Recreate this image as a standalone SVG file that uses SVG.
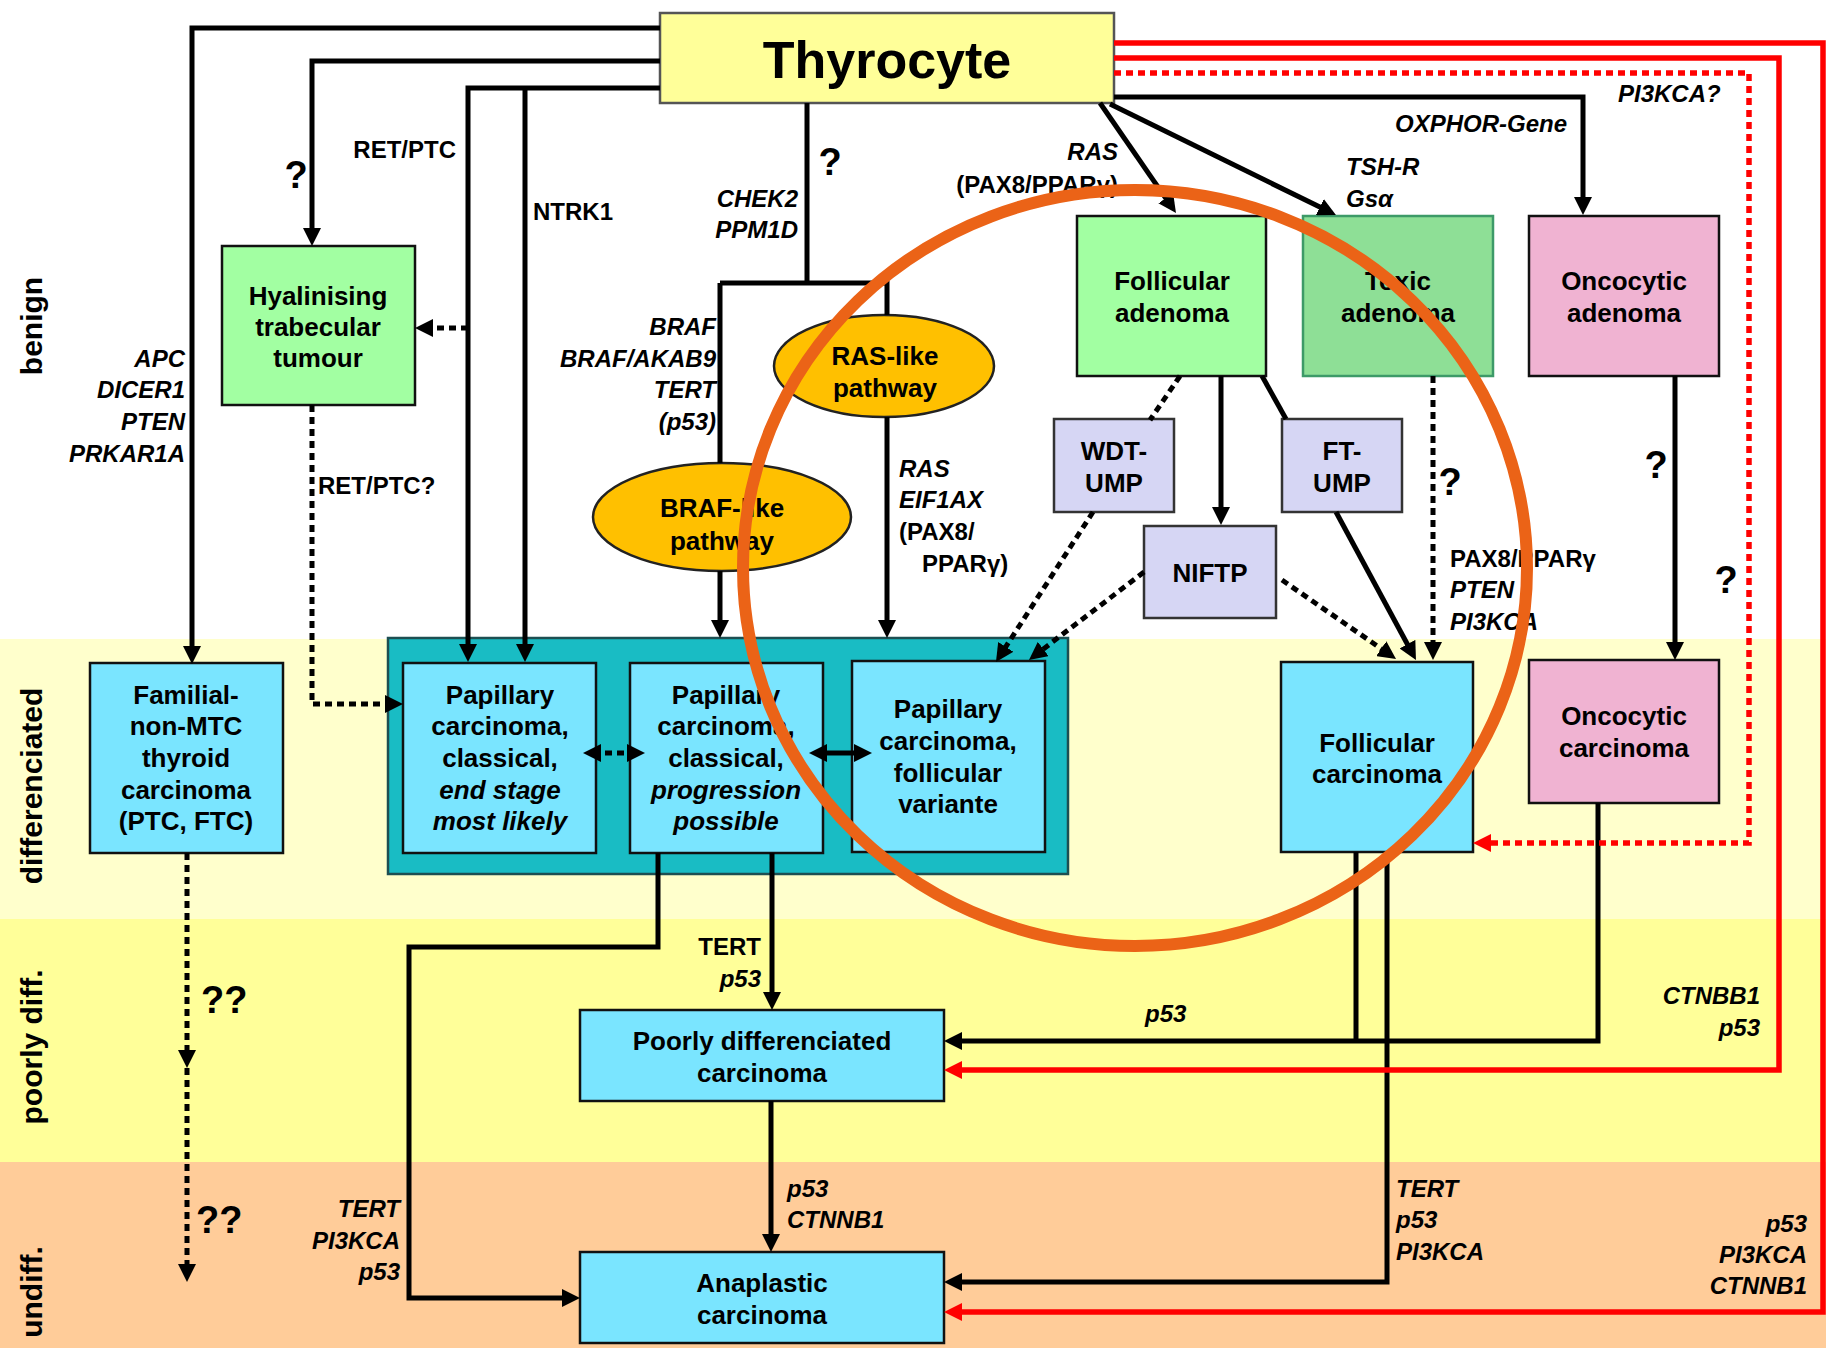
<svg xmlns="http://www.w3.org/2000/svg" width="1826" height="1348" viewBox="0 0 1826 1348">
<style>
text{font-family:"Liberation Sans",Arial,sans-serif;font-weight:bold;fill:#000}
.nt{font-size:26px;text-anchor:middle}
.lb{font-size:24px}
.it{font-style:italic}
.e{text-anchor:end}
.m{text-anchor:middle}
.q{font-size:38px}
.band{font-size:30px;text-anchor:middle}
.box{stroke:#111;stroke-width:2.5}
.ln{fill:none;stroke:#000;stroke-width:5}
.dt{fill:none;stroke:#000;stroke-width:5;stroke-dasharray:7 5}
.rd{fill:none;stroke:#FF0000;stroke-width:5.5}
.rdt{fill:none;stroke:#FF0000;stroke-width:5.5;stroke-dasharray:7 5}
.green{fill:#A2FFA2}
.cyan{fill:#7AE5FF}
.pink{fill:#F0B3D2}
.lav{fill:#D6D6F4;stroke:#333;stroke-width:2.5}
.ell{fill:#FFC000;stroke:#222;stroke-width:2.5}
</style>
<defs>
<marker id="ah" markerUnits="userSpaceOnUse" markerWidth="18" markerHeight="18" refX="8" refY="9" orient="auto-start-reverse"><path d="M0,0 L18,9 L0,18 z" fill="#000"/></marker>
<marker id="ahr" markerUnits="userSpaceOnUse" markerWidth="18" markerHeight="18" refX="8" refY="9" orient="auto-start-reverse"><path d="M0,0 L18,9 L0,18 z" fill="#FF0000"/></marker>
</defs>
<rect x="0" y="0" width="1826" height="1348" fill="#FFFFFF"/>
<g id="bands">
<rect x="0" y="639" width="1826" height="280" fill="#FFFFCC"/>
<rect x="0" y="919" width="1826" height="243" fill="#FFFF99"/>
<rect x="0" y="1162" width="1826" height="186" fill="#FFCC99"/>
<text class="band" transform="translate(42,326) rotate(-90)">benign</text>
<text class="band" transform="translate(42,786) rotate(-90)">differenciated</text>
<text class="band" transform="translate(42,1047) rotate(-90)">poorly diff.</text>
<text class="band" transform="translate(42,1292) rotate(-90)">undiff.</text>
</g>
<g id="papillary-group"><rect x="388" y="638" width="680" height="236" fill="#19BCC4" stroke="#1d4f52" stroke-width="2.5"/></g>
<g id="thyrocyte"><rect x="660" y="13" width="454" height="90" fill="#FFFF99" stroke="#555" stroke-width="2.5"/><text x="887" y="78" font-size="52" text-anchor="middle">Thyrocyte</text></g>
<g id="hyalinising"><rect class="box green" x="222" y="246" width="193" height="159"/><text class="nt" x="318" y="305">Hyalinising</text><text class="nt" x="318" y="336">trabecular</text><text class="nt" x="318" y="367">tumour</text></g>
<g id="follicular-adenoma"><rect class="box green" x="1077" y="216" width="189" height="160"/><text class="nt" x="1172" y="290">Follicular</text><text class="nt" x="1172" y="322">adenoma</text></g>
<g id="toxic-adenoma"><rect x="1303" y="216" width="190" height="160" fill="#8EDF96" stroke="#3D9A68" stroke-width="2.5"/><text class="nt" x="1398" y="290">Toxic</text><text class="nt" x="1398" y="322">adenoma</text></g>
<g id="oncocytic-adenoma"><rect class="box pink" x="1529" y="216" width="190" height="160"/><text class="nt" x="1624" y="290">Oncocytic</text><text class="nt" x="1624" y="322">adenoma</text></g>
<g id="ras-like"><ellipse class="ell" cx="884" cy="366" rx="110" ry="51"/><text class="nt" x="885" y="365">RAS-like</text><text class="nt" x="885" y="397">pathway</text></g>
<g id="braf-like"><ellipse class="ell" cx="722" cy="517" rx="129" ry="54"/><text class="nt" x="722" y="517">BRAF-like</text><text class="nt" x="722" y="550">pathway</text></g>
<g id="wdt-ump"><rect class="lav" x="1054" y="419" width="120" height="93"/><text class="nt" x="1114" y="460">WDT-</text><text class="nt" x="1114" y="492">UMP</text></g>
<g id="ft-ump"><rect class="lav" x="1282" y="419" width="120" height="93"/><text class="nt" x="1342" y="460">FT-</text><text class="nt" x="1342" y="492">UMP</text></g>
<g id="niftp"><rect class="lav" x="1144" y="526" width="132" height="92"/><text class="nt" x="1210" y="582">NIFTP</text></g>
<g id="familial"><rect class="box cyan" x="90" y="663" width="193" height="190"/><text class="nt" x="186" y="704">Familial-</text><text class="nt" x="186" y="735">non-MTC</text><text class="nt" x="186" y="767">thyroid</text><text class="nt" x="186" y="799">carcinoma</text><text class="nt" x="186" y="830">(PTC, FTC)</text></g>
<g id="papillary-end-stage"><rect class="box cyan" x="403" y="663" width="193" height="190"/><text class="nt" x="500" y="704">Papillary</text><text class="nt" x="500" y="735">carcinoma,</text><text class="nt" x="500" y="767">classical,</text><text class="nt it" x="500" y="799">end stage</text><text class="nt it" x="500" y="830">most likely</text></g>
<g id="papillary-progression"><rect class="box cyan" x="630" y="663" width="193" height="190"/><text class="nt" x="726" y="704">Papillary</text><text class="nt" x="726" y="735">carcinoma,</text><text class="nt" x="726" y="767">classical,</text><text class="nt it" x="726" y="799">progression</text><text class="nt it" x="726" y="830">possible</text></g>
<g id="papillary-follicular"><rect class="box cyan" x="852" y="661" width="193" height="191"/><text class="nt" x="948" y="718">Papillary</text><text class="nt" x="948" y="750">carcinoma,</text><text class="nt" x="948" y="782">follicular</text><text class="nt" x="948" y="813">variante</text></g>
<g id="follicular-carcinoma"><rect class="box cyan" x="1281" y="662" width="192" height="190"/><text class="nt" x="1377" y="752">Follicular</text><text class="nt" x="1377" y="783">carcinoma</text></g>
<g id="oncocytic-carcinoma"><rect class="box pink" x="1529" y="660" width="190" height="143"/><text class="nt" x="1624" y="725">Oncocytic</text><text class="nt" x="1624" y="757">carcinoma</text></g>
<g id="poorly"><rect class="box cyan" x="580" y="1010" width="364" height="91"/><text class="nt" x="762" y="1050">Poorly differenciated</text><text class="nt" x="762" y="1082">carcinoma</text></g>
<g id="anaplastic"><rect class="box cyan" x="580" y="1252" width="364" height="91"/><text class="nt" x="762" y="1292">Anaplastic</text><text class="nt" x="762" y="1324">carcinoma</text></g>
<g id="connectors">
<path class="ln" d="M660,28 H192 V654" marker-end="url(#ah)"/>
<path class="ln" d="M660,61 H312 V236" marker-end="url(#ah)"/>
<path class="ln" d="M660,88 H468 V652" marker-end="url(#ah)"/>
<path class="ln" d="M525,88 V652" marker-end="url(#ah)"/>
<path class="ln" d="M807,103 V283"/>
<path class="ln" d="M720,283 H887 V315"/>
<path class="ln" d="M720,283 V463"/>
<path class="ln" d="M720,571 V628" marker-end="url(#ah)"/>
<path class="ln" d="M887,417 V628" marker-end="url(#ah)"/>
<path class="ln" d="M1100,103 L1170.3,204.8" marker-end="url(#ah)"/>
<path class="ln" d="M1110,104 L1327,210.6" marker-end="url(#ah)"/>
<path class="ln" d="M1114,97 H1583 V205" marker-end="url(#ah)"/>
<path class="ln" d="M1221,376 V515" marker-end="url(#ah)"/>
<path class="ln" d="M1262,376 L1286,419"/>
<path class="ln" d="M1336,512 L1411.2,651.2" marker-end="url(#ah)"/>
<path class="ln" d="M1675,376 V650" marker-end="url(#ah)"/>
<path class="ln" d="M772,853 V1000" marker-end="url(#ah)"/>
<path class="ln" d="M658,853 V947 H409 V1298 H570" marker-end="url(#ah)"/>
<path class="ln" d="M771,1101 V1242" marker-end="url(#ah)"/>
<path class="ln" d="M1598,803 V1041 H954" marker-end="url(#ah)"/>
<path class="ln" d="M1356,852 V1041"/>
<path class="ln" d="M1387,852 V1282 H954" marker-end="url(#ah)"/>
<path class="ln" d="M819,753 H862" marker-start="url(#ah)" marker-end="url(#ah)"/>
<path class="dt" d="M593,753 H635" marker-start="url(#ah)" marker-end="url(#ah)"/>
<path class="dt" d="M312,405 V704 H393" marker-end="url(#ah)"/>
<path class="dt" d="M468,328 H425" marker-end="url(#ah)"/>
<path class="dt" d="M1433,376 V650" marker-end="url(#ah)"/>
<path class="dt" d="M1180,376 L1150,420"/>
<path class="dt" d="M1093,512 L1001.4,653.6" marker-end="url(#ah)"/>
<path class="dt" d="M1144,572 L1036.9,653.9" marker-end="url(#ah)"/>
<path class="dt" d="M1282,580 L1387.8,653.3" marker-end="url(#ah)"/>
<path class="dt" d="M187,853 V1058" marker-end="url(#ah)"/>
<path class="dt" d="M187,1068 V1272" marker-end="url(#ah)"/>
<path class="rd" d="M1114,43 H1823 V1312 H954" marker-end="url(#ahr)"/>
<path class="rd" d="M1114,58 H1779 V1070 H954" marker-end="url(#ahr)"/>
<path class="rdt" d="M1114,73 H1749 V843 H1483" marker-end="url(#ahr)"/>
</g>
<g id="labels">
<text class="q m" x="296" y="188">?</text>
<text class="lb e" x="456" y="158">RET/PTC</text>
<text class="lb" x="533" y="220">NTRK1</text>
<text class="lb it e" x="185" y="367">APC</text>
<text class="lb it e" x="185" y="398">DICER1</text>
<text class="lb it e" x="185" y="430">PTEN</text>
<text class="lb it e" x="185" y="462">PRKAR1A</text>
<text class="lb" x="318" y="494">RET/PTC?</text>
<text class="q m" x="830" y="175">?</text>
<text class="lb it e" x="798" y="207">CHEK2</text>
<text class="lb it e" x="798" y="238">PPM1D</text>
<text class="lb it e" x="716" y="335">BRAF</text>
<text class="lb it e" x="716" y="367">BRAF/AKAB9</text>
<text class="lb it e" x="716" y="398">TERT</text>
<text class="lb it e" x="716" y="430">(p53)</text>
<text class="lb it e" x="1118" y="160">RAS</text>
<text class="lb e" x="1118" y="193">(PAX8/PPARγ)</text>
<text class="lb it" x="899" y="477">RAS</text>
<text class="lb it" x="899" y="508">EIF1AX</text>
<text class="lb" x="899" y="540">(PAX8/</text>
<text class="lb" x="922" y="572">PPARγ)</text>
<text class="lb it" x="1346" y="175">TSH-R</text>
<text class="lb it" x="1346" y="207">Gsα</text>
<text class="lb it e" x="1567" y="132">OXPHOR-Gene</text>
<text class="lb it" x="1618" y="102">PI3KCA?</text>
<text class="q m" x="1450" y="495">?</text>
<text class="lb" x="1450" y="567">PAX8/PPARγ</text>
<text class="lb it" x="1450" y="598">PTEN</text>
<text class="lb it" x="1450" y="630">PI3KCA</text>
<text class="q m" x="1656" y="478">?</text>
<text class="q m" x="1726" y="593">?</text>
<text class="lb e" x="761" y="955">TERT</text>
<text class="lb it e" x="761" y="987">p53</text>
<text class="lb it e" x="400" y="1217">TERT</text>
<text class="lb it e" x="400" y="1249">PI3KCA</text>
<text class="lb it e" x="400" y="1280">p53</text>
<text class="lb it" x="1145" y="1022">p53</text>
<text class="lb it" x="787" y="1197">p53</text>
<text class="lb it" x="787" y="1228">CTNNB1</text>
<text class="lb it" x="1396" y="1197">TERT</text>
<text class="lb it" x="1396" y="1228">p53</text>
<text class="lb it" x="1396" y="1260">PI3KCA</text>
<text class="lb it e" x="1760" y="1004">CTNBB1</text>
<text class="lb it e" x="1760" y="1036">p53</text>
<text class="lb it e" x="1807" y="1232">p53</text>
<text class="lb it e" x="1807" y="1263">PI3KCA</text>
<text class="lb it e" x="1807" y="1294">CTNNB1</text>
<text class="q" x="201" y="1013">??</text>
<text class="q" x="196" y="1233">??</text>
</g>
<g id="highlight"><ellipse cx="1135" cy="568" rx="392" ry="378" fill="none" stroke="#EB6317" stroke-width="12"/></g>
</svg>
